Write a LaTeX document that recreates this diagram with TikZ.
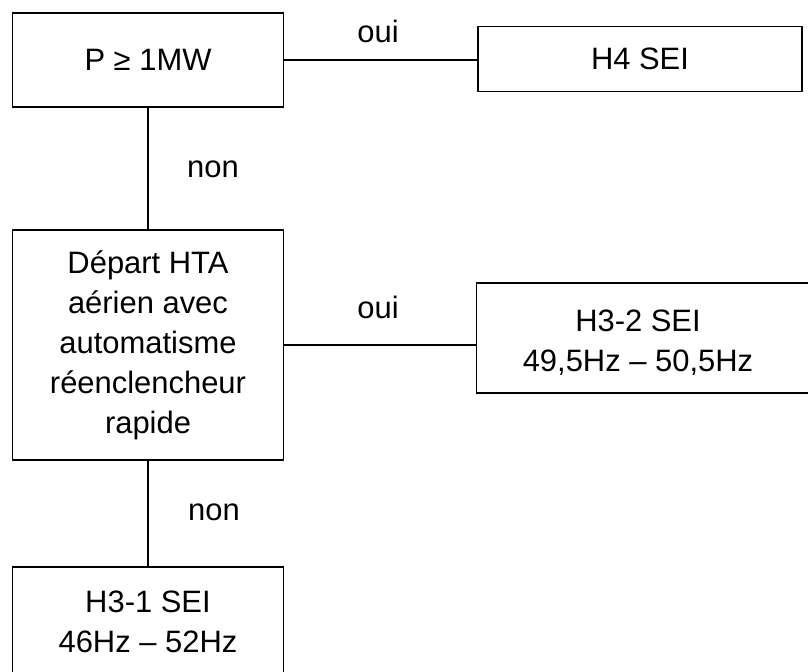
\documentclass[tikz,border=0pt]{standalone}
\usepackage{fontspec}
\setmainfont{Liberation Sans}
\begin{document}
\begin{tikzpicture}[x=0.025cm,y=-0.025cm,
        box/.style={draw=black, line width=1.3pt, align=center, inner sep=0pt,
            font=\fontsize{22}{28.5}\selectfont},
        lbl/.style={anchor=base, font=\fontsize{22}{28.5}\selectfont},
        wire/.style={draw=black, line width=1pt}]
        % Page size
        \useasboundingbox (0,0) rectangle (808,671);
        \clip (0,0) rectangle (808,671);

        % --- LEFT COLUMN ---
        \node[box, minimum width=6.775cm, minimum height=2.35cm] (pw) at (148,60) {P ≥ 1MW};
        \node[box, minimum width=6.775cm, minimum height=5.75cm] (depart) at (148,345)
            {Départ HTA\\aérien avec\\automatisme\\réenclencheur\\rapide};
        \node[box, minimum width=6.775cm, minimum height=2.75cm] (h31) at (148,622)
            {H3-1 SEI\\46Hz – 52Hz};

        % --- RIGHT COLUMN ---
        \node[box, minimum width=8.1cm, minimum height=1.625cm] (h4) at (640,59) {H4 SEI};
        \node[box, minimum width=8.575cm, minimum height=2.75cm] (h32) at (648,338) {};
        \node[lbl, anchor=center, align=center] (h32txt) at (638,343) {H3-2 SEI\\49,5Hz – 50,5Hz};

        % Links
        \draw[wire] (pw.east) -- (pw.east -| h4.west);
        \draw[wire] (pw.south) -- (depart.north);
        \draw[wire] (depart.east) -- (depart.east -| h32.west);
        \draw[wire] (depart.south) -- (h31.north);

        % Answers
        \node[lbl] (oui1) at (378,42) {oui};
        \node[lbl] (non1) at (213,177) {non};
        \node[lbl] (oui2) at (378,318) {oui};
        \node[lbl] (non2) at (214,520) {non};
    \end{tikzpicture}
\end{document}
